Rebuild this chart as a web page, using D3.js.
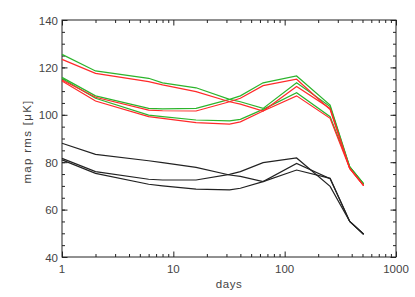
<!DOCTYPE html>
<html>
<head>
<meta charset="utf-8">
<script src="https://cdn.jsdelivr.net/npm/d3@7"></script>
<style>
  body { margin: 0; background: #fff; }
  text { font-family: "Liberation Sans", Helvetica, Arial, sans-serif; fill: #444; }
</style>
</head>
<body>
<svg id="chart" width="415" height="297"></svg>
<script>
// jours (axe x, log)
var days = [1, 2, 6, 8, 16, 32, 40, 64, 128, 256, 384, 512];

// courbes noires
var blackA = [88.0, 83.3, 80.6, 79.8, 77.8, 74.6, 74.0, 71.8, 79.5, 73.0, 55.0, 49.6];
var blackB = [81.6, 76.0, 72.8, 72.5, 72.5, 74.9, 76.0, 79.8, 81.8, 69.8, 55.0, 49.6];
var blackC = [81.0, 75.3, 70.7, 70.0, 68.6, 68.3, 69.0, 71.8, 76.7, 73.2, 55.0, 49.6];

// courbes vertes
var greenA = [125.5, 118.5, 115.4, 113.5, 111.4, 106.5, 105.5, 102.7, 113.5, 103.5, 78.0, 70.8];
var greenB = [115.8, 108.0, 102.7, 102.5, 102.7, 106.5, 108.0, 113.5, 116.4, 104.1, 78.0, 70.8];
var greenC = [115.3, 107.0, 99.9, 99.2, 97.8, 97.4, 98.1, 102.3, 109.3, 99.2, 78.0, 70.8];

// courbes rouges
var redA = [123.4, 117.5, 114.0, 112.6, 109.8, 105.5, 104.5, 101.6, 111.9, 102.7, 77.4, 70.1];
var redB = [114.7, 107.4, 102.0, 101.7, 101.6, 105.5, 107.0, 112.3, 115.0, 102.2, 77.4, 70.1];
var redC = [114.3, 105.8, 99.2, 98.5, 96.7, 96.1, 97.0, 101.6, 108.0, 98.5, 77.4, 70.1];

var yTicks = [40, 60, 80, 100, 120, 140];
var xTicks = [1, 10, 100, 1000];

var series = [
  {v: blackA, c: "#222"}, {v: blackB, c: "#222"}, {v: blackC, c: "#222"},
  {v: greenA, c: "#2cb42c"}, {v: greenB, c: "#2cb42c"}, {v: greenC, c: "#2cb42c"},
  {v: redA, c: "#ff2a2a"}, {v: redB, c: "#ff2a2a"}, {v: redC, c: "#ff2a2a"}
];

var margin = {left: 62, top: 20, right: 19, bottom: 40};
var width = 415 - margin.left - margin.right;
var height = 297 - margin.top - margin.bottom;

var svg = d3.select("#chart");
var g = svg.append("g").attr("transform", `translate(${margin.left},${margin.top})`);

var x = d3.scaleLog().domain([1, 1000]).range([0, width]);
var y = d3.scaleLinear().domain([40, 140]).range([height, 0]);

// petites graduations
var yMinor = d3.range(40, 141, 5);
var xMinor = [];
[1, 10, 100].forEach(function(p) { for (var k = 2; k <= 9; k++) xMinor.push(p * k); });

function ticks(axis, scale, vals, size, tf) {
  g.append("g").attr("transform", tf)
    .call(axis(scale).tickValues(vals).tickSize(size).tickFormat(""))
    .call(a => a.select(".domain").remove())
    .selectAll("line").attr("stroke", "#222");
}
// graduations vers l'intérieur sur les quatre côtés
ticks(d3.axisLeft, y, yMinor, -3, "translate(0,0)");
ticks(d3.axisLeft, y, yTicks, -5.5, "translate(0,0)");
ticks(d3.axisRight, y, yMinor, -3, `translate(${width},0)`);
ticks(d3.axisRight, y, yTicks, -5.5, `translate(${width},0)`);
ticks(d3.axisBottom, x, xMinor, -3, `translate(0,${height})`);
ticks(d3.axisBottom, x, xTicks, -5.5, `translate(0,${height})`);
ticks(d3.axisTop, x, xMinor, -3, "translate(0,0)");
ticks(d3.axisTop, x, xTicks, -5.5, "translate(0,0)");

g.append("rect")
  .attr("width", width).attr("height", height)
  .attr("fill", "none").attr("stroke", "#222").attr("stroke-width", 1);

// étiquettes
g.selectAll(".ylab").data(yTicks).enter().append("text")
  .attr("x", -4).attr("y", d => y(d) + 4.5)
  .attr("text-anchor", "end").attr("font-size", 11.5)
  .text(d => d);

g.selectAll(".xlab").data(xTicks).enter().append("text")
  .attr("x", d => x(d)).attr("y", height + 16)
  .attr("text-anchor", "middle").attr("font-size", 11.5)
  .text(d => d);

g.append("text")
  .attr("x", width / 2).attr("y", height + 31)
  .attr("text-anchor", "middle").attr("font-size", 11.5)
  .attr("letter-spacing", 0.5)
  .text("days");

g.append("text")
  .attr("transform", `translate(-31,${height / 2 + 3}) rotate(-90)`)
  .attr("text-anchor", "middle").attr("font-size", 11.5)
  .attr("letter-spacing", 1.3)
  .text("map rms [μK]");

var line = d3.line()
  .x((d, i) => x(days[i]))
  .y(d => y(d));

g.selectAll(".serie").data(series).enter().append("path")
  .attr("d", d => line(d.v))
  .attr("fill", "none")
  .attr("stroke", d => d.c)
  .attr("stroke-width", 1.2);
</script>
</body>
</html>
